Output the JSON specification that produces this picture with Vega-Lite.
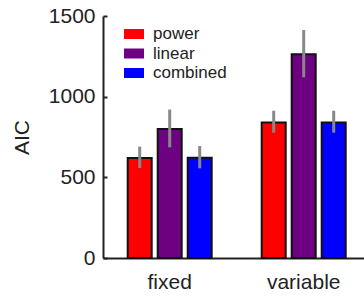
{
  "$schema": "https://vega.github.io/schema/vega-lite/v6.json",
  "autosize": {"type": "none"},
  "padding": {"left": 103, "top": 16, "right": 0, "bottom": 38},
  "width": 261,
  "height": 242,
  "background": "white",
  "config": {
    "view": {"stroke": null},
    "font": "Liberation Sans",
    "axis": {"labelFont": "Liberation Sans", "titleFont": "Liberation Sans", "labelColor": "#222", "titleColor": "#222", "domainColor": "#222", "tickColor": "#222"}
  },
  "data": {
    "values": [
      {"type": "fixed", "model": "power", "value": 620, "lo": 558, "hi": 690},
      {"type": "fixed", "model": "linear", "value": 800, "lo": 686, "hi": 920},
      {"type": "fixed", "model": "combined", "value": 622, "lo": 556, "hi": 694},
      {"type": "variable", "model": "power", "value": 840, "lo": 777, "hi": 913},
      {"type": "variable", "model": "linear", "value": 1263, "lo": 1120, "hi": 1413},
      {"type": "variable", "model": "combined", "value": 840, "lo": 777, "hi": 913}
    ]
  },
  "encoding": {
    "x": {
      "field": "type", "type": "nominal",
      "scale": {"paddingInner": 0.1, "paddingOuter": 0.0239, "align": 1},
      "axis": {"title": null, "labelAngle": 0, "ticks": false, "labelFontSize": 21, "labelPadding": 13, "domainWidth": 2, "domainColor": "#222"}
    },
    "xOffset": {
      "field": "model", "type": "nominal", "sort": ["power", "linear", "combined"],
      "scale": {"paddingInner": 0.2, "paddingOuter": 0.61}
    }
  },
  "layer": [
    {
      "mark": {"type": "bar", "stroke": "#111", "strokeWidth": 2},
      "encoding": {
        "y": {
          "field": "value", "type": "quantitative",
          "scale": {"domain": [0, 1500], "nice": false},
          "axis": {"title": "AIC", "values": [0, 500, 1000, 1500], "format": "d", "grid": false, "labelFontSize": 21, "titleFontSize": 21, "titleFontWeight": "normal", "titlePadding": 16, "tickSize": -4, "tickWidth": 2, "domainWidth": 2, "labelPadding": 12}
        },
        "color": {
          "field": "model", "type": "nominal",
          "scale": {"domain": ["power", "linear", "combined"], "range": ["#ff0000", "#6e0082", "#0000ff"]},
          "legend": {
            "title": null, "orient": "none", "legendX": 21, "legendY": 8,
            "padding": 0, "rowPadding": 1.5, "labelFontSize": 17, "labelFont": "Liberation Sans", "labelColor": "#222", "labelOffset": 9,
            "symbolType": "M-1,-0.5H1V0.5H-1Z", "symbolSize": 400, "symbolStrokeWidth": 0, "symbolOpacity": 1
          }
        }
      }
    },
    {
      "mark": {"type": "rule", "color": "#888888", "strokeWidth": 3},
      "encoding": {
        "y": {"field": "lo", "type": "quantitative"},
        "y2": {"field": "hi"}
      }
    }
  ]
}
